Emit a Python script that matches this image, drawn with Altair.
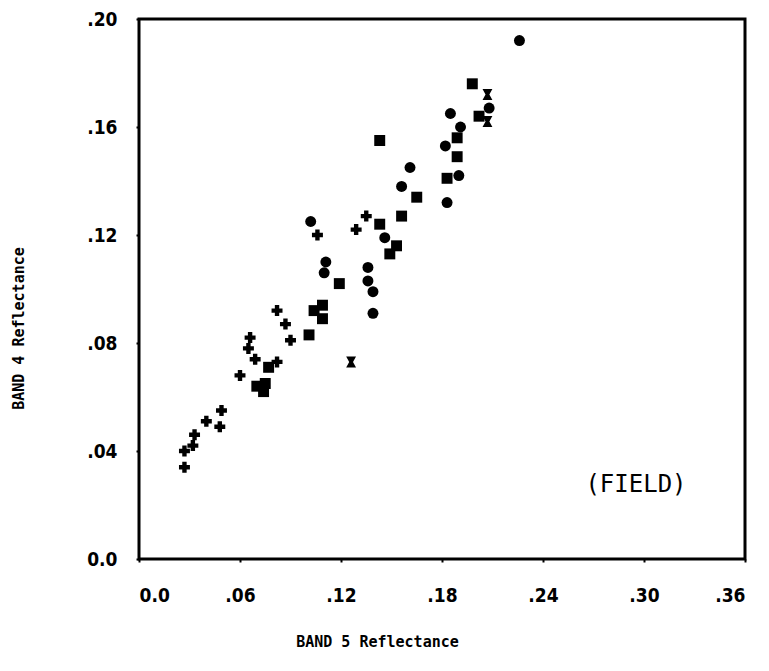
import altair as alt
import pandas as pd

band5 = [0.226, 0.198, 0.207, 0.185, 0.208, 0.202, 0.207, 0.191, 0.189, 0.182,
         0.189, 0.190, 0.183, 0.183, 0.143, 0.161, 0.156, 0.165, 0.135, 0.156,
         0.129, 0.143, 0.146, 0.153, 0.149, 0.111, 0.110, 0.136, 0.136, 0.139,
         0.119, 0.139, 0.109, 0.109, 0.104, 0.106, 0.102, 0.082, 0.101, 0.087,
         0.090, 0.066, 0.065, 0.069, 0.077, 0.082, 0.126, 0.060, 0.070, 0.075,
         0.074, 0.049, 0.040, 0.048, 0.033, 0.032, 0.027, 0.027]
band4 = [0.192, 0.176, 0.172, 0.165, 0.167, 0.164, 0.162, 0.160, 0.156, 0.153,
         0.149, 0.142, 0.141, 0.132, 0.155, 0.145, 0.138, 0.134, 0.127, 0.127,
         0.122, 0.124, 0.119, 0.116, 0.113, 0.110, 0.106, 0.108, 0.103, 0.099,
         0.102, 0.091, 0.094, 0.089, 0.092, 0.120, 0.125, 0.092, 0.083, 0.087,
         0.081, 0.082, 0.078, 0.074, 0.071, 0.073, 0.073, 0.068, 0.064, 0.065,
         0.062, 0.055, 0.051, 0.049, 0.046, 0.042, 0.040, 0.034]
kind = ["circle", "square", "hourglass", "circle", "circle", "square", "hourglass", "circle", "square", "circle",
        "square", "circle", "square", "circle", "square", "circle", "circle", "square", "cross", "square",
        "cross", "square", "circle", "square", "square", "circle", "circle", "circle", "circle", "circle",
        "square", "circle", "square", "square", "square", "cross", "circle", "cross", "square", "cross",
        "cross", "cross", "cross", "cross", "square", "cross", "hourglass", "cross", "square", "square",
        "square", "cross", "cross", "cross", "cross", "cross", "cross", "cross"]

x_ticks = [0.0, 0.06, 0.12, 0.18, 0.24, 0.30, 0.36]
y_ticks = [0.0, 0.04, 0.08, 0.12, 0.16, 0.20]

df = pd.DataFrame({"band5": band5, "band4": band4, "kind": kind})

hourglass = "M-0.9,-1L0.9,-1L0.35,0L0.9,1L-0.9,1L-0.35,0Z"

label_font = "DejaVu Sans Condensed, DejaVu Sans"
title_font = "DejaVu Sans Mono"

points = alt.Chart(df).mark_point(filled=True, color="black", opacity=1, size=120).encode(
    x=alt.X("band5:Q",
            scale=alt.Scale(domain=[0, 0.36], nice=False, zero=False),
            axis=alt.Axis(values=x_ticks, grid=False, domain=False,
                          labelExpr="datum.value == 0 ? '0.0' : replace(format(datum.value, '.2f'), '0.', '.')",
                          labelFont=label_font, labelFontSize=19, labelFontWeight="bold",
                          labelPadding=24, tickSize=3, tickColor="black", tickWidth=2,
                          labelColor="black",
                          title="BAND 5 Reflectance", titleFont=title_font, titleFontSize=15,
                          titleFontWeight="bold", titleColor="black",
                          titleX=238, titleY=82, titleBaseline="middle", titleAnchor="start",
                          titleAlign="center")),
    y=alt.Y("band4:Q",
            scale=alt.Scale(domain=[0, 0.20], nice=False, zero=False),
            axis=alt.Axis(values=y_ticks, grid=False, domain=False,
                          labelExpr="datum.value == 0 ? '0.0' : replace(format(datum.value, '.2f'), '0.', '.')",
                          labelFont=label_font, labelFontSize=19, labelFontWeight="bold",
                          labelPadding=19, tickSize=3, tickColor="black", tickWidth=2,
                          labelColor="black",
                          title="BAND 4 Reflectance", titleFont=title_font, titleFontSize=15,
                          titleFontWeight="bold", titleColor="black",
                          titleX=-121, titleY=309, titleAngle=270, titleBaseline="middle",
                          titleAlign="center", titleAnchor="start")),
    shape=alt.Shape("kind:N",
                    scale=alt.Scale(domain=["circle", "square", "cross", "hourglass"],
                                    range=["circle", "square", "cross", hourglass]),
                    legend=None),
)

label = alt.Chart(pd.DataFrame({"t": ["(FIELD)"]})).mark_text(
    font=title_font, fontSize=24, color="black", align="center", baseline="middle"
).encode(x=alt.value(497), y=alt.value(466), text="t:N")

chart = alt.layer(points, label).properties(
    width=606, height=540,
    autosize=alt.AutoSizeParams(type="none"),
    padding={"left": 139, "top": 19, "right": 24, "bottom": 112},
    background="white",
).configure_view(stroke="black", strokeWidth=3)

chart.save("out.html", embed_options={"renderer": "svg", "actions": False})
